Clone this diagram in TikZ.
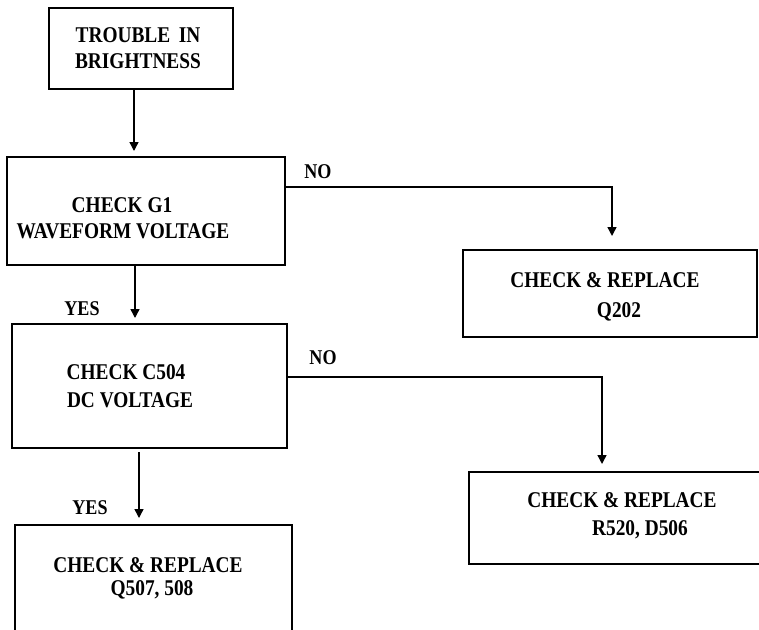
\documentclass[tikz,border=0pt]{standalone}
\usepackage{fontspec}
\setmainfont{Liberation Serif}[FakeStretch=0.86]
\usetikzlibrary{arrows.meta}
\begin{document}
\begin{tikzpicture}[x=1pt,y=-1pt,
  box/.style={draw, line width=1.7pt, inner sep=0pt, outer sep=0pt},
  txt/.style={inner sep=0pt, font=\fontsize{22.5}{27}\selectfont\bfseries},
  lbl/.style={inner sep=0pt, font=\fontsize{21}{25}\selectfont\bfseries},
  arr/.style={line width=1.4pt, -{Triangle[width=9pt,length=9pt]}},
  ln/.style={line width=1.4pt}]
\useasboundingbox (0,0) rectangle (759,629);
\fill[white] (0,0) rectangle (759,629);
% boxes
\node[box, minimum width=184pt, minimum height=81pt] (b1) at (141,48.5) {};
\node[box, minimum width=278pt, minimum height=108pt] (b2) at (146,211) {};
\node[box, minimum width=294pt, minimum height=87pt] (b3) at (610,293.5) {};
\node[box, minimum width=275pt, minimum height=124pt] (b4) at (149.5,386) {};
\node[box, minimum width=293pt, minimum height=92pt] (b5) at (615.5,518) {};
\node[box, minimum width=277pt, minimum height=120pt] (b6) at (153.5,585) {};
% texts
\node[txt] (t1a) at (138,35) {TROUBLE\, IN};
\node[txt] (t1b) at (138,61) {BRIGHTNESS};
\node[txt] (t2a) at (122,205) {CHECK G1};
\node[txt] (t2b) at (123,231) {WAVEFORM VOLTAGE};
\node[txt] (t3a) at (605,280) {CHECK \& REPLACE};
\node[txt] (t3b) at (619,312) {Q202};
\node[txt] (t4a) at (126,372) {CHECK C504};
\node[txt] (t4b) at (130,400) {DC VOLTAGE};
\node[txt] (t5a) at (622,500) {CHECK \& REPLACE};
\node[txt] (t5b) at (640,530) {R520, D506};
\node[txt] (t6a) at (148,565) {CHECK \& REPLACE};
\node[txt] (t6b) at (152,590) {Q507, 508};
% labels
\node[lbl] (no1) at (318,172) {NO};
\node[lbl] (yes1) at (82,309) {YES};
\node[lbl] (no2) at (323,358) {NO};
\node[lbl] (yes2) at (90,508) {YES};
% connectors
\coordinate (e1) at (134,151);
\draw[arr] (b1.south -| e1) -- (e1);
\coordinate (e2) at (135,318);
\draw[arr] (b2.south -| e2) -- (e2);
\coordinate (k3) at (612,187);
\coordinate (e3) at (612,236);
\draw[arr] (b2.east |- k3) -- (k3) -- (e3);
\coordinate (k5) at (602,377);
\coordinate (e5) at (602,464);
\draw[arr] (b4.east |- k5) -- (k5) -- (e5);
\coordinate (s6) at (139,452);
\coordinate (e6) at (139,518);
\draw[arr] (s6) -- (e6);
\end{tikzpicture}
\end{document}
